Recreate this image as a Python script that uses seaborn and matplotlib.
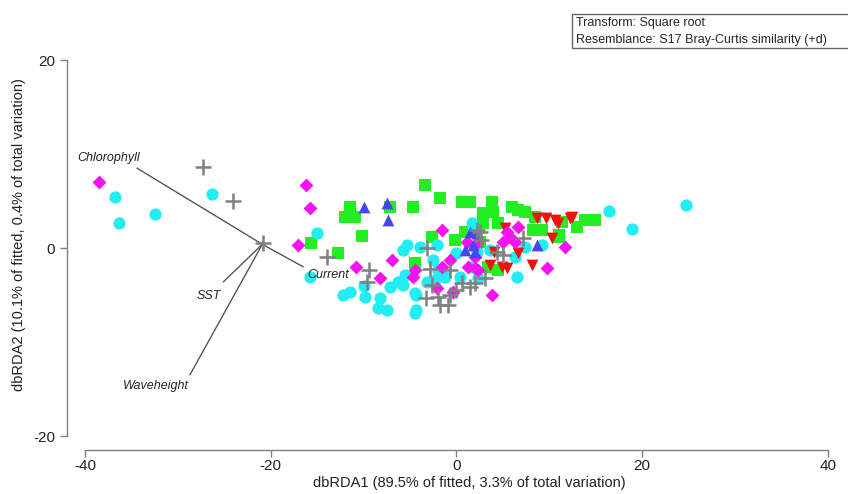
import pandas as pd
import matplotlib.pyplot as plt
import matplotlib.patches as mpatches
import seaborn as sns

# sample scores on the first two dbRDA axes, one list pair per group
cyan_x = [-36.8, -36.3, -32.5, -26.3, 16.4, 18.9, 24.7, -15.0, -15.8, -12.2, -11.5, -9.8,
          -8.2, -8.4, -7.5, -7.2, -6.3, -5.5, -5.8, -5.3, -4.3, -4.3, -3.2, -2.3, -3.9, -2.1,
          -2.5, -5.8, -4.5, -2.0, -1.2, 0.4, 0.0, 1.7, 2.2, 1.7, 1.8, 3.6, 2.3, 6.3, 7.4, 9.2,
          6.5, -4.5, -10.0]
cyan_y = [5.4, 2.7, 3.6, 5.7, 3.9, 2.0, 4.6, 1.6, -3.1, -5.0, -4.7, -5.2,
          -5.3, -6.4, -6.6, -4.1, -3.6, -2.9, -0.2, 0.3, -5.0, -6.6, -3.6, -3.4, 0.1, 0.3,
          -1.3, -3.9, -4.8, -2.3, -3.1, -3.1, -0.5, 2.7, -0.4, -2.0, 2.2, -0.2, -3.2, -1.0, 0.1, 0.3,
          -3.1, -6.9, -4.0]

green_x = [-15.7, -12.8, -12.0, -11.5, -10.9, -10.2, -7.2, -4.7, -3.4, -1.8, 0.6, -2.6,
           -0.2, 0.9, -4.5, 1.5, 3.8, 3.9, 2.9, 2.9, 4.5, 6.0, 6.6, 7.4, 8.5, 9.2, 8.2,
           11.1, 13.8, 14.9, 2.5, 4.5, 3.4, 11.4, 13.0, 11.1]
green_y = [0.5, -0.5, 3.3, 4.4, 3.3, 1.3, 4.4, 4.4, 6.7, 5.3, 4.9, 1.2,
           0.9, 1.7, -1.6, 4.9, 4.9, 3.8, 3.7, 2.7, 2.7, 4.4, 4.0, 3.8, 3.3, 1.9, 1.9,
           1.4, 3.0, 3.0, 0.6, -2.3, -2.0, 2.8, 2.2, 1.2]

blue_x = [-9.9, -7.5, -7.4, 1.5, 0.9, 2.0, 8.7, 2.2, 1.8]
blue_y = [4.4, 4.8, 3.0, 1.7, -0.2, -0.4, 0.3, 1.6, 0.3]

red_x = [8.7, 9.7, 10.6, 10.9, 10.3, 8.1, 5.5, 4.9, 6.6, 5.2, 4.1, 3.6, 12.2, 12.5]
red_y = [3.2, 3.2, 3.0, 2.7, 1.1, -1.8, -2.1, -2.0, -0.5, 2.1, -0.4, -1.8, 3.2, 3.3]

magenta_x = [-38.5, -16.2, -15.8, -17.1, -10.8, -6.9, -8.2, -4.5, -4.7, -1.6, -1.6, -0.7,
             1.1, 1.2, -2.1, -0.4, 2.0, 6.6, 5.4, 5.8, 6.3, 2.2, 2.0, 2.3, 11.7, 9.8, 3.8, 5.0]
magenta_y = [7.0, 6.7, 4.3, 0.3, -2.0, -1.3, -3.2, -2.3, -3.1, 1.9, -2.0, -1.3,
             0.6, -2.0, -4.3, -4.7, -2.1, 2.2, 1.7, 1.2, 0.6, 0.5, -1.0, -2.3, 0.1, -2.1, -5.0, 0.6]

gray_x = [-27.3, -24.1, -20.8, -13.9, -9.4, -9.6, -3.2, -2.6, -2.0, -1.8, -0.9, -0.7, 0.0,
          0.6, 1.5, 2.2, -0.7, 2.5, 2.7, 4.4, 5.0, 3.1, 2.0, 7.2, -3.3, -2.8]
gray_y = [8.6, 5.0, 0.5, -1.0, -2.3, -3.6, 0.0, -3.9, -5.2, -6.1, -6.1, -5.0, -4.5,
          -3.7, -4.1, 1.9, -2.3, 1.7, 0.9, -0.4, -0.7, -3.2, -3.7, 1.1, -5.3, -2.2]

# environmental vectors (end points), drawn from a common origin
vec_names = ["Chlorophyll", "Current", "SST", "Waveheight"]
vec_x = [-34.4, -16.5, -25.1, -28.7]
vec_y = [8.5, -2.0, -3.6, -13.5]
vec_origin = (-20.9, 0.4)

filled = pd.concat([
    pd.DataFrame({"x": green_x, "y": green_y, "group": "G2"}),
    pd.DataFrame({"x": cyan_x, "y": cyan_y, "group": "G1"}),
    pd.DataFrame({"x": red_x, "y": red_y, "group": "G4"}),
    pd.DataFrame({"x": magenta_x, "y": magenta_y, "group": "G5"}),
    pd.DataFrame({"x": blue_x, "y": blue_y, "group": "G3"}),
], ignore_index=True)
crosses = pd.DataFrame({"x": gray_x, "y": gray_y})

palette = {"G1": "#22eef2", "G2": "#22ee22", "G3": "#4646f0", "G4": "#f51010", "G5": "#f514f0"}
markers = {"G1": "o", "G2": "s", "G3": "^", "G4": "v", "G5": "D"}
sizes = {"G1": 78, "G2": 64, "G3": 72, "G4": 72, "G5": 50}

sns.set_style("white")
plt.rcParams["font.family"] = ["Liberation Sans", "DejaVu Sans"]
plt.rcParams["axes.unicode_minus"] = False

fig = plt.figure(figsize=(8.48, 4.94), dpi=100)
ax = fig.add_axes([0.1002, 0.1174, 0.876, 0.761])

for g in ["G2", "G1", "G4", "G5", "G3"]:
    sub = filled[filled["group"] == g]
    sns.scatterplot(data=sub, x="x", y="y", color=palette[g], marker=markers[g],
                    s=sizes[g], linewidth=0, ax=ax, legend=False, zorder=3)
sns.scatterplot(data=crosses, x="x", y="y", color="#808080", marker="+", s=120,
                linewidth=1.8, ax=ax, legend=False, zorder=4)

ox, oy = vec_origin
label_off = {"Chlorophyll": (2, 7, "right"), "Current": (3, -6, "left"),
             "SST": (-2, -10, "right"), "Waveheight": (-1, -8, "right")}
for name, ex, ey in zip(vec_names, vec_x, vec_y):
    ax.plot([ox, ex], [oy, ey], color="#555555", lw=1, zorder=2)
    dx, dy, ha = label_off[name]
    ax.annotate(name, (ex, ey), xytext=(dx, dy), textcoords="offset points",
                ha=ha, va="center", fontsize=9, style="italic", color="#222222")

ax.set_xlim(-40, 40)
ax.set_ylim(-20, 20)
ax.set_xticks([-40, -20, 0, 20, 40])
ax.set_yticks([-20, 0, 20])
for side in ["top", "right"]:
    ax.spines[side].set_visible(False)
ax.spines["left"].set_position(("outward", 13))
ax.spines["bottom"].set_position(("outward", 10))
ax.spines["left"].set_bounds(-20, 20)
ax.spines["bottom"].set_bounds(-40, 40)
for side in ["left", "bottom"]:
    ax.spines[side].set_color("#808080")
    ax.spines[side].set_linewidth(1)
ax.tick_params(axis="both", length=5, width=1, color="#808080", labelsize=11,
               labelcolor="#222222", direction="out", left=True, bottom=True)
ax.tick_params(axis="x", pad=1.5)
ax.set_xlabel("dbRDA1 (89.5% of fitted, 3.3% of total variation)", fontsize=10.5,
              color="#222222")
ax.set_ylabel("dbRDA2 (10.1% of fitted, 0.4% of total variation)", fontsize=10.5,
              color="#222222")
ax.xaxis.set_label_coords(0.518, -0.106)
ax.yaxis.set_label_coords(-0.079, 0.535)

box = mpatches.Rectangle((572 / 848, 1 - 48 / 494), 0.33, 34 / 494, transform=fig.transFigure,
                         facecolor="white", edgecolor="#666666", lw=1)
fig.patches.append(box)
fig.text(576 / 848, 1 - 23 / 494, "Transform: Square root", fontsize=9, va="center")
fig.text(576 / 848, 1 - 40 / 494, "Resemblance: S17 Bray-Curtis similarity (+d)",
         fontsize=9, va="center")

fig.savefig("out.png", dpi=100)
